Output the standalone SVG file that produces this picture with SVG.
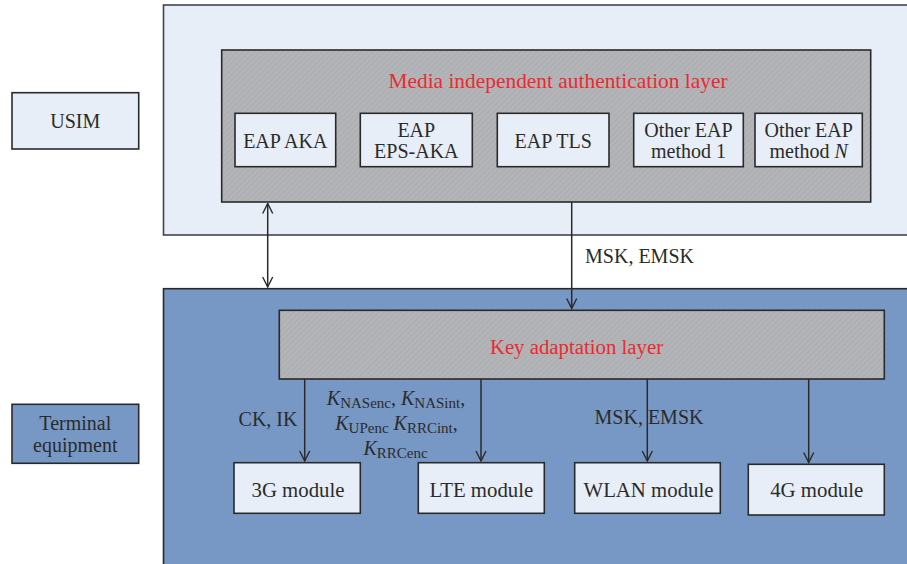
<svg xmlns="http://www.w3.org/2000/svg" width="907" height="564" viewBox="0 0 907 564" font-family="'Liberation Serif', 'DejaVu Serif', serif">
  <defs>
    <pattern id="hatch" width="4" height="4" patternUnits="userSpaceOnUse" patternTransform="rotate(45)">
      <rect width="4" height="4" fill="#b3b4b8"/>
      <line x1="0" y1="0" x2="0" y2="4" stroke="#a8a9ad" stroke-width="1.2"/>
    </pattern>
    <marker id="arrow" viewBox="0 0 12 12" refX="11" refY="6" markerWidth="12" markerHeight="12" markerUnits="userSpaceOnUse" orient="auto-start-reverse">
      <path d="M1,1 L11,6 L1,11" fill="none" stroke="#2a2a2a" stroke-width="1.4"/>
    </marker>
    <style>
      text { font-family: 'Liberation Serif', 'DejaVu Serif', serif; }
      .t { font-size: 20px; fill: #2b2b2b; text-anchor: middle; }
      .m { font-size: 20.8px; }
      .red { fill: #ec2a2e; }
      .title { font-size: 21.4px; }
      .keyl { font-size: 20.8px; }
      .light { fill: #e8eef7; stroke: #2a2a2a; stroke-width: 1.6; }
      .blue { fill: #7798c5; stroke: #2a2a2a; stroke-width: 1.6; }
      .layer { fill: url(#hatch); stroke: #2a2a2a; stroke-width: 1.6; }
      .outer { fill: #e8eef7; stroke: #444; stroke-width: 1.6; }
      .edge { fill: none; stroke: #2a2a2a; stroke-width: 1.5; }
      .k { font-style: italic; }
      .sub { font-size: 15px; font-style: normal; }
    </style>
  </defs>

  <rect width="907" height="564" fill="#ffffff"/>

  <!-- USIM domain -->
  <g id="usim-domain">
    <rect class="outer" x="163.5" y="5" width="760" height="230"/>
  </g>

  <!-- terminal equipment domain -->
  <g id="terminal-domain">
    <rect class="blue" x="163.5" y="288.7" width="760" height="290"/>
  </g>

  <g id="usim">
    <rect class="light" x="12" y="92.7" width="126.7" height="56.3"/>
    <text class="t" x="75.3" y="127.5">USIM</text>
  </g>

  <g id="terminal">
    <rect class="blue" x="12" y="404.3" width="126.7" height="59"/>
    <text class="t" x="75.3" y="429.5">Terminal</text>
    <text class="t" x="75.3" y="452">equipment</text>
  </g>

  <g id="auth-layer">
    <rect class="layer" x="221.7" y="50" width="649" height="152"/>
    <text class="t red title" x="558" y="87.5">Media independent authentication layer</text>
  </g>

  <g id="eap-aka">
    <rect class="light" x="235" y="113.3" width="100.7" height="53.4"/>
    <text class="t" x="285.3" y="148.3">EAP AKA</text>
  </g>

  <g id="eap-eps-aka">
    <rect class="light" x="360.3" y="113.3" width="112" height="53.4"/>
    <text class="t" x="416.3" y="136.5">EAP</text>
    <text class="t" x="416.3" y="157.5">EPS-AKA</text>
  </g>

  <g id="eap-tls">
    <rect class="light" x="497.3" y="113.3" width="111.7" height="53.4"/>
    <text class="t" x="553.2" y="148.3">EAP TLS</text>
  </g>

  <g id="eap-other-1">
    <rect class="light" x="633.7" y="113.3" width="109.6" height="53.4"/>
    <text class="t" x="688.5" y="136.5">Other EAP</text>
    <text class="t" x="688.5" y="158">method 1</text>
  </g>

  <g id="eap-other-n">
    <rect class="light" x="755" y="113.3" width="107.3" height="53.4"/>
    <text class="t" x="808.7" y="136.5">Other EAP</text>
    <text class="t" x="808.7" y="158">method <tspan font-style="italic">N</tspan></text>
  </g>

  <g id="key-layer">
    <rect class="layer" x="279.3" y="310.3" width="605" height="68.7"/>
    <text class="t red keyl" x="576.5" y="354">Key adaptation layer</text>
  </g>

  <g id="module-3g">
    <rect class="light" x="234" y="462.7" width="126.3" height="50.6"/>
    <text class="t m" x="298" y="497">3G module</text>
  </g>

  <g id="module-lte">
    <rect class="light" x="418.3" y="462.7" width="126" height="50.6"/>
    <text class="t m" x="481.3" y="497">LTE module</text>
  </g>

  <g id="module-wlan">
    <rect class="light" x="574.7" y="462.7" width="145.6" height="50.6"/>
    <text class="t m" x="648.5" y="497">WLAN module</text>
  </g>

  <g id="module-4g">
    <rect class="light" x="748.3" y="464.3" width="136" height="50.7"/>
    <text class="t m" x="816.7" y="497">4G module</text>
  </g>

  <!-- connectors -->
  <g id="connectors">
    <line class="edge" x1="267.7" y1="203.5" x2="267.7" y2="287" marker-start="url(#arrow)" marker-end="url(#arrow)"/>
    <line class="edge" x1="571.7" y1="202" x2="571.7" y2="308.5" marker-end="url(#arrow)"/>
    <line class="edge" x1="304.7" y1="379" x2="304.7" y2="461" marker-end="url(#arrow)"/>
    <line class="edge" x1="481" y1="379" x2="481" y2="461" marker-end="url(#arrow)"/>
    <line class="edge" x1="647.3" y1="379" x2="647.3" y2="461" marker-end="url(#arrow)"/>
    <line class="edge" x1="808.7" y1="379" x2="808.7" y2="462.5" marker-end="url(#arrow)"/>

    <text class="t" x="639.5" y="263">MSK, EMSK</text>
    <text class="t" x="268" y="426">CK, IK</text>
    <text class="t" x="649" y="424">MSK, EMSK</text>
    <text class="t" x="396"  y="405"><tspan class="k">K</tspan><tspan class="sub" dy="3">NASenc</tspan><tspan dy="-3">, </tspan><tspan class="k">K</tspan><tspan class="sub" dy="3">NASint</tspan><tspan dy="-3">,</tspan></text>
    <text class="t" x="396.5" y="430"><tspan class="k">K</tspan><tspan class="sub" dy="3">UPenc</tspan><tspan dy="-3"> </tspan><tspan class="k">K</tspan><tspan class="sub" dy="3">RRCint</tspan><tspan dy="-3">,</tspan></text>
    <text class="t" x="395.5" y="455"><tspan class="k">K</tspan><tspan class="sub" dy="3">RRCenc</tspan></text>
  </g>
</svg>
